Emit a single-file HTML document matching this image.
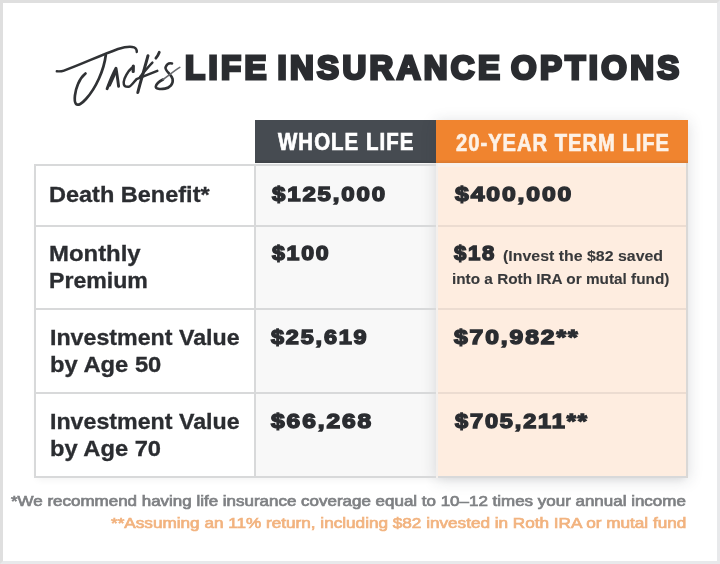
<!DOCTYPE html>
<html><head><meta charset="utf-8">
<style>
*{margin:0;padding:0;box-sizing:border-box}
html,body{width:720px;height:564px;overflow:hidden;background:#fff}
body{position:relative;font-family:"Liberation Sans",sans-serif;color:#2b2d31}
.frame{position:absolute;left:0;top:0;width:720px;height:564px;border:3px solid #dfdfdf;border-right-color:#e8e9eb;border-bottom-color:#e8e9eb}
.t{position:absolute;white-space:nowrap;line-height:1}
.t span{display:inline-block;transform-origin:0 0}
.hl{position:absolute;background:#d8d9da}
#wrap{position:absolute;left:0;top:0;width:720px;height:564px;filter:blur(0.35px)}
</style></head><body><div id="wrap">
<div class="frame"></div>

<!-- Jack's script -->
<svg style="position:absolute;left:0;top:0" width="720" height="564" viewBox="0 0 720 564">
<g fill="none" stroke="#303235" stroke-linecap="round" stroke-linejoin="round">
<path d="M56.8,71.3 C60,71.6 62,71.3 64,70.6 C80,65 100,55.5 118,49 C125,46.8 131,46.3 134,47.3 C136,48.3 137,50 136.8,52" stroke-width="2.4"/>
<path d="M105.8,55 C104,70 96,88 86,99 C82,103.5 78,106 76,104 C73.5,101 75,91 78,84 C80,79 83,75.5 85.5,73.5" stroke-width="2.7"/>
<path d="M107.1,88.7 C110,81 113,74 116,68.3 C117,74 117.8,80 118.6,86.2" stroke-width="2.9"/>
<path d="M109.7,85.5 L115.6,72.5" stroke-width="2.4"/>
<path d="M133.3,66 L133.2,71.5" stroke-width="3.2"/>
<path d="M132,67.7 C128,71 124,78 123.7,82 C123.5,86 125,87 128.8,86.8 C131,86.5 134,82 136.5,79.1 L157.3,70.9" stroke-width="2.5"/>
<path d="M148,55.7 C145,67 141,80 137.8,92.5" stroke-width="3"/>
<path d="M152.4,62.6 C148,67 144,72 140,77" stroke-width="2.4"/>
<path d="M159.3,52.3 C158.5,54.5 157.3,56.5 155.9,58.2" stroke-width="2.8"/>
<path d="M172,63.5 C170,63 167,63.5 165.5,67.5 C165,71 171,74 172.6,79 C173.5,84 170,87.8 165,88.6 C160,89.4 155.5,89 155.8,86.5 C156.5,83 160,81 163,79.5" stroke-width="2.6"/>
<path d="M163,79.5 C168,76 174,71 179.8,67.4" stroke-width="1.6" stroke="#6a6c70"/>
</g>
</svg>

<!-- table shadow -->
<div style="position:absolute;left:34px;top:164px;width:654px;height:314px;box-shadow:0 5px 7px -3px rgba(0,0,0,0.05)"></div>
<!-- col backgrounds -->
<div style="position:absolute;left:34px;top:164px;width:221px;height:314px;background:#fff"></div>
<div style="position:absolute;left:255px;top:120px;width:181px;height:358px;background:#f8f8f8"></div>
<div style="position:absolute;left:255px;top:120px;width:181px;height:43px;background:#464b51"></div>
<!-- orange column card -->
<div style="position:absolute;left:436px;top:120px;width:252px;height:358px;background:#feede0;box-shadow:0 2px 14px rgba(40,50,60,0.17)"></div>
<div style="position:absolute;left:436px;top:120px;width:252px;height:43px;background:#f0842f"></div>
<div style="position:absolute;left:436px;top:160px;width:252px;height:3px;background:linear-gradient(#eb812f,#d97a30)"></div>
<div style="position:absolute;left:436px;top:163px;width:252px;height:4px;background:#f8f1ec"></div>
<div style="position:absolute;left:255px;top:160px;width:181px;height:3px;background:linear-gradient(#43474c,#3d4146)"></div>

<!-- borders -->
<div class="hl" style="left:34px;top:164px;width:402px;height:2px"></div>
<div class="hl" style="left:34px;top:224.6px;width:402px;height:2px"></div>
<div class="hl" style="left:34px;top:308px;width:402px;height:2px"></div>
<div class="hl" style="left:34px;top:392.4px;width:402px;height:2px"></div>
<div class="hl" style="left:34px;top:476.4px;width:654px;height:2px"></div>
<div class="hl" style="left:436px;top:224.6px;width:252px;height:2px;background:#ecdcd1"></div>
<div class="hl" style="left:436px;top:308px;width:252px;height:2px;background:#ecdcd1"></div>
<div class="hl" style="left:436px;top:392.4px;width:252px;height:2px;background:#ecdcd1"></div>
<div class="hl" style="left:34px;top:164px;width:2px;height:314px"></div>
<div class="hl" style="left:254px;top:164px;width:2px;height:314px"></div>
<div style="position:absolute;left:436px;top:163px;width:2px;height:315px;background:#f3efec"></div>
<div class="hl" style="left:686px;top:163px;width:2px;height:315px;background:#dad8d6"></div>

<div class="t" style="left:185.16px;top:50.00px;font-size:34.01px;font-weight:bold;color:#2a2c30;-webkit-text-stroke:3.0px #2a2c30;letter-spacing:3.5px;word-spacing:-5px;"><span id="h1" style="transform:scaleX(0.9668)">LIFE INSURANCE OPTIONS</span></div>
<div class="t" style="left:277.63px;top:131.00px;font-size:23.26px;font-weight:bold;color:#ffffff;-webkit-text-stroke:0.7px #ffffff;letter-spacing:1.2px;"><span id="wl" style="transform:scaleX(0.8786)">WHOLE LIFE</span></div>
<div class="t" style="left:455.90px;top:132.00px;font-size:23.69px;font-weight:bold;color:#fdf1e6;-webkit-text-stroke:0.7px #fdf1e6;letter-spacing:1.2px;"><span id="tl" style="transform:scaleX(0.8492)">20-YEAR TERM LIFE</span></div>
<div class="t" style="left:49.18px;top:184.00px;font-size:21.80px;font-weight:bold;color:#2b2d31;-webkit-text-stroke:0.3px #2b2d31;"><span id="r1a" style="transform:scaleX(1.0782)">Death Benefit*</span></div>
<div class="t" style="left:271.52px;top:184.00px;font-size:20.78px;font-weight:bold;color:#2b2d31;-webkit-text-stroke:1.4px #2b2d31;letter-spacing:1.6px;"><span id="r1b" style="transform:scaleX(1.1553)">$125,000</span></div>
<div class="t" style="left:454.97px;top:184.00px;font-size:20.78px;font-weight:bold;color:#2b2d31;-webkit-text-stroke:1.4px #2b2d31;letter-spacing:1.6px;"><span id="r1c" style="transform:scaleX(1.1890)">$400,000</span></div>
<div class="t" style="left:49.37px;top:243.00px;font-size:22.24px;font-weight:bold;color:#2b2d31;-webkit-text-stroke:0.3px #2b2d31;"><span id="r2a" style="transform:scaleX(1.0757)">Monthly</span></div>
<div class="t" style="left:49.39px;top:270.00px;font-size:21.95px;font-weight:bold;color:#2b2d31;-webkit-text-stroke:0.3px #2b2d31;"><span id="r2a2" style="transform:scaleX(1.0535)">Premium</span></div>
<div class="t" style="left:272.09px;top:243.00px;font-size:20.78px;font-weight:bold;color:#2b2d31;-webkit-text-stroke:1.4px #2b2d31;letter-spacing:1.6px;"><span id="r2b" style="transform:scaleX(1.1113)">$100</span></div>
<div class="t" style="left:454.37px;top:243.00px;font-size:20.93px;font-weight:bold;color:#2b2d31;-webkit-text-stroke:1.4px #2b2d31;letter-spacing:1.6px;"><span id="r2c" style="transform:scaleX(1.0596)">$18</span></div>
<div class="t" style="left:502.73px;top:248.00px;font-size:15.50px;font-weight:bold;color:#38393b;-webkit-text-stroke:0.1px #38393b;"><span id="r2c2" style="transform:scaleX(1.0265)">(Invest the $82 saved</span></div>
<div class="t" style="left:451.93px;top:271.00px;font-size:15.41px;font-weight:bold;color:#38393b;-webkit-text-stroke:0.1px #38393b;"><span id="r2c3" style="transform:scaleX(0.9949)">into a Roth IRA or mutal fund)</span></div>
<div class="t" style="left:49.57px;top:327.00px;font-size:21.80px;font-weight:bold;color:#2b2d31;-webkit-text-stroke:0.3px #2b2d31;"><span id="r3a" style="transform:scaleX(1.0645)">Investment Value</span></div>
<div class="t" style="left:49.54px;top:354.00px;font-size:21.80px;font-weight:bold;color:#2b2d31;-webkit-text-stroke:0.3px #2b2d31;"><span id="r3a2" style="transform:scaleX(1.0896)">by Age 50</span></div>
<div class="t" style="left:271.18px;top:327.00px;font-size:20.49px;font-weight:bold;color:#2b2d31;-webkit-text-stroke:1.4px #2b2d31;letter-spacing:1.6px;"><span id="r3b" style="transform:scaleX(1.1432)">$25,619</span></div>
<div class="t" style="left:454.25px;top:327.00px;font-size:20.49px;font-weight:bold;color:#2b2d31;-webkit-text-stroke:1.4px #2b2d31;letter-spacing:1.6px;"><span id="r3c" style="transform:scaleX(1.2022)">$70,982**</span></div>
<div class="t" style="left:49.57px;top:411.00px;font-size:21.80px;font-weight:bold;color:#2b2d31;-webkit-text-stroke:0.3px #2b2d31;"><span id="r4a" style="transform:scaleX(1.0645)">Investment Value</span></div>
<div class="t" style="left:49.55px;top:438.00px;font-size:21.80px;font-weight:bold;color:#2b2d31;-webkit-text-stroke:0.3px #2b2d31;"><span id="r4a2" style="transform:scaleX(1.0868)">by Age 70</span></div>
<div class="t" style="left:271.24px;top:411.00px;font-size:20.49px;font-weight:bold;color:#2b2d31;-webkit-text-stroke:1.4px #2b2d31;letter-spacing:1.6px;"><span id="r4b" style="transform:scaleX(1.1979)">$66,268</span></div>
<div class="t" style="left:454.77px;top:411.00px;font-size:20.49px;font-weight:bold;color:#2b2d31;-webkit-text-stroke:1.4px #2b2d31;letter-spacing:1.6px;"><span id="r4c" style="transform:scaleX(1.1499)">$705,211**</span></div>
<div class="t" style="left:11.31px;top:494.00px;font-size:14.83px;font-weight:normal;color:#7f8184;-webkit-text-stroke:0.7px #7f8184;"><span id="f1" style="transform:scaleX(1.1440)">*We recommend having life insurance coverage equal to 10–12 times your annual income</span></div>
<div class="t" style="left:110.68px;top:516.00px;font-size:14.83px;font-weight:normal;color:#f2b37f;-webkit-text-stroke:0.7px #f2b37f;"><span id="f2" style="transform:scaleX(1.1562)">**Assuming an 11% return, including $82 invested in Roth IRA or mutal fund</span></div>
</div></body></html>
